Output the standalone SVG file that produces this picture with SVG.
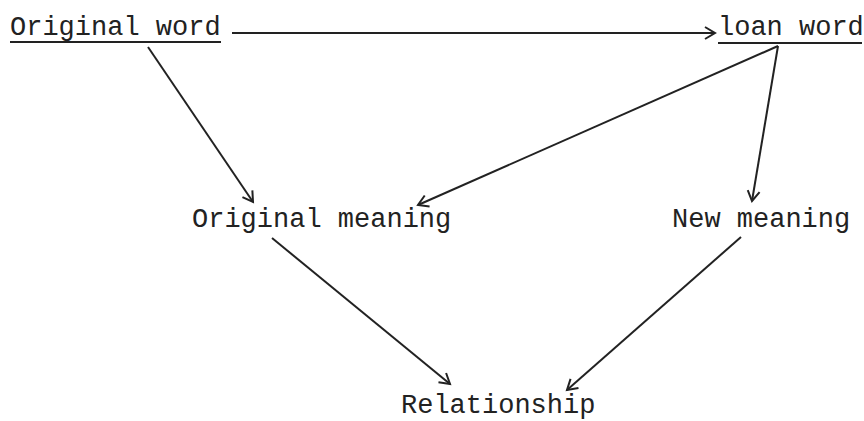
<svg xmlns="http://www.w3.org/2000/svg" width="864" height="421" viewBox="0 0 864 421">
  <style>
    .lbl { font-family: "Liberation Mono", "DejaVu Sans Mono", monospace; font-size: 27px; fill: #222; }
    .ul { stroke: #222; stroke-width: 2; fill: none; }
    .edge { stroke: #222; stroke-width: 2; fill: none; marker-end: url(#arr); }
  </style>
  <defs>
    <marker id="arr" markerUnits="userSpaceOnUse" markerWidth="16" markerHeight="16" viewBox="-12 -8 14 16" refX="0" refY="0" orient="auto">
      <path d="M -10 -6 L 0 0 L -10 6" fill="none" stroke="#222" stroke-width="2"/>
    </marker>
  </defs>
  <rect width="864" height="421" fill="#ffffff"/>
  <g id="original-word">
    <text class="lbl" x="10" y="35">Original word</text>
    <line class="ul" x1="10" y1="42" x2="221" y2="42"/>
  </g>
  <g id="loan-word">
    <text class="lbl" x="718" y="35">loan word</text>
    <line class="ul" x1="718" y1="43" x2="862" y2="43"/>
  </g>
  <g id="original-meaning">
    <text class="lbl" x="192" y="227">Original meaning</text>
  </g>
  <g id="new-meaning">
    <text class="lbl" x="672" y="227">New meaning</text>
  </g>
  <g id="relationship">
    <text class="lbl" x="401" y="413">Relationship</text>
  </g>
  <g id="connectors">
    <line class="edge" x1="232" y1="33" x2="715" y2="33"/>
    <line class="edge" x1="148" y1="47" x2="253" y2="202"/>
    <line class="edge" x1="778" y1="46" x2="418" y2="205"/>
    <line class="edge" x1="778" y1="46" x2="752" y2="201"/>
    <line class="edge" x1="272" y1="238" x2="450" y2="384"/>
    <line class="edge" x1="741" y1="237" x2="567" y2="390"/>
  </g>
</svg>
